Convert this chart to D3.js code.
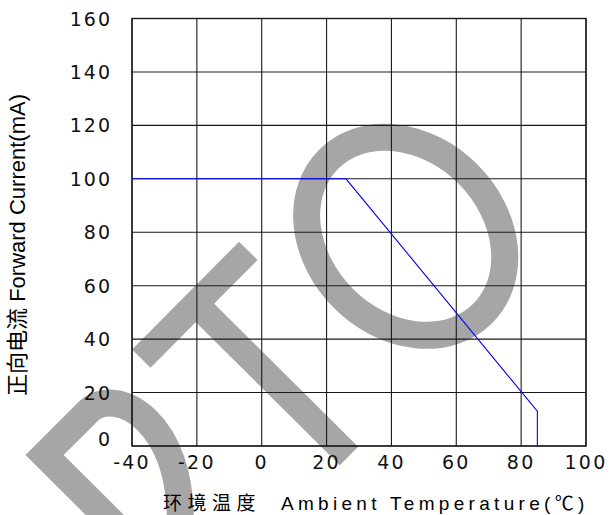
<!DOCTYPE html>
<html>
<head>
<meta charset="utf-8">
<script src="https://cdn.jsdelivr.net/npm/d3@7"></script>
<style>
    body { margin: 0; background: #fff; }
    #chart { width: 616px; height: 515px; }
</style>
</head>
<body>
<div id="chart"></div>
<script>

// axis ticks
let tempTicks = [-40, -20, 0, 20, 40, 60, 80, 100];
let currentTicks = [0, 20, 40, 60, 80, 100, 120, 140, 160];

// derating curve (ambient temp in C, forward current in mA)
let tempC = [-40, 26, 85, 85];
let currentMA = [100, 100, 13, 0];

// axis titles
let xTitleCn = "环境温度";
let xTitleEn = "Ambient Temperature(℃)";
let yTitle = "正向电流 Forward Current(mA)";


class DeratingVis {

    constructor(parentElement) {
        this.parentElement = parentElement;
        this.initVis()
    }

    initVis() {
        let vis = this;

        vis.margin = {top: 18.5, right: 30, bottom: 69, left: 132};
        vis.width = 616 - vis.margin.left - vis.margin.right;
        vis.height = 515 - vis.margin.top - vis.margin.bottom;

        // init drawing area
        vis.svg = d3.select("#" + vis.parentElement).append("svg")
            .attr("width", 616)
            .attr("height", 515);

        // watermark sits under everything else
        vis.drawWatermark();

        vis.g = vis.svg.append("g")
            .attr("transform", `translate(${vis.margin.left}, ${vis.margin.top})`);

        vis.x = d3.scaleLinear().domain([-40, 100]).range([0, vis.width]);
        vis.y = d3.scaleLinear().domain([0, 160]).range([vis.height, 0]);

        vis.updateVis()
    }

    drawWatermark() {
        let vis = this;
        let grey = "#a6a6a6";
        let wm = vis.svg.append("g").attr("class", "watermark")
            .attr("fill", "none")
            .attr("stroke", grey)
            .attr("stroke-width", 27);

        // D
        wm.append("path")
            .attr("d", "M150,560 L44.6,455 L88,411.6 C115,385 185,420 180,530")
            .attr("stroke-linejoin", "miter");

        // T
        wm.append("path").attr("d", "M248.3,250.8 L141.3,358.7").attr("stroke-width", 26);
        wm.append("path").attr("d", "M196,304 L349,456").attr("stroke-width", 26);

        // O
        wm.append("ellipse")
            .attr("cx", 405.7).attr("cy", 236.3)
            .attr("rx", 109).attr("ry", 88)
            .attr("transform", "rotate(45 405.7 236.3)");
    }

    updateVis() {
        let vis = this;
        let gridColor = "#1a1a1a";

        // vertical grid
        vis.g.selectAll(".vgrid")
            .data(tempTicks)
            .enter()
            .append("line")
            .attr("class", "vgrid")
            .attr("x1", d => vis.x(d)).attr("x2", d => vis.x(d))
            .attr("y1", 0).attr("y2", vis.height)
            .attr("stroke", gridColor)
            .attr("stroke-width", 1.1);

        // horizontal grid
        vis.g.selectAll(".hgrid")
            .data(currentTicks)
            .enter()
            .append("line")
            .attr("class", "hgrid")
            .attr("x1", 0).attr("x2", vis.width)
            .attr("y1", d => vis.y(d)).attr("y2", d => vis.y(d))
            .attr("stroke", gridColor)
            .attr("stroke-width", 1.1);

        // frame
        vis.g.append("rect")
            .attr("width", vis.width).attr("height", vis.height)
            .attr("fill", "none")
            .attr("stroke", gridColor)
            .attr("stroke-width", 1.4);

        // tick labels
        vis.g.selectAll(".xlabel")
            .data(tempTicks)
            .enter()
            .append("text")
            .attr("class", "xlabel")
            .attr("x", d => vis.x(d))
            .attr("y", vis.height + 23)
            .attr("text-anchor", "middle")
            .attr("fill", "#111")
            .style("font-family", "DejaVu Sans")
            .style("font-size", "19px")
            .style("letter-spacing", "2.2px")
            .text(d => d);

        vis.g.selectAll(".ylabel")
            .data(currentTicks)
            .enter()
            .append("text")
            .attr("class", "ylabel")
            .attr("x", -20)
            .attr("y", d => d === 0 ? vis.y(d) - 7 : vis.y(d))
            .attr("dy", "0.37em")
            .attr("text-anchor", "end")
            .attr("fill", "#111")
            .style("font-family", "DejaVu Sans")
            .style("font-size", "19px")
            .style("letter-spacing", "2px")
            .text(d => d);

        // derating line
        let pts = tempC.map((t, i) => [t, currentMA[i]]);
        let line = d3.line().x(d => vis.x(d[0])).y(d => vis.y(d[1]));
        vis.g.append("path")
            .datum(pts)
            .attr("d", line)
            .attr("fill", "none")
            .attr("stroke", "#0000ff")
            .attr("stroke-width", 1.1);

        // axis titles
        let xt = vis.svg.append("text")
            .attr("x", 163)
            .attr("y", 510)
            .style("font-family", "Liberation Sans, Noto Sans CJK SC")
            .style("font-size", "19px");
        xt.append("tspan").style("letter-spacing", "5.5px").text(xTitleCn);
        xt.append("tspan").attr("dx", 20).style("letter-spacing", "4.3px").text(xTitleEn);

        vis.svg.append("text")
            .attr("transform", "translate(25, 245) rotate(-90)")
            .attr("text-anchor", "middle")
            .style("font-family", "Liberation Sans, Noto Sans CJK SC")
            .style("font-size", "22px")
            .text(yTitle);
    }
}

let myVis = new DeratingVis("chart");

</script>
</body>
</html>
